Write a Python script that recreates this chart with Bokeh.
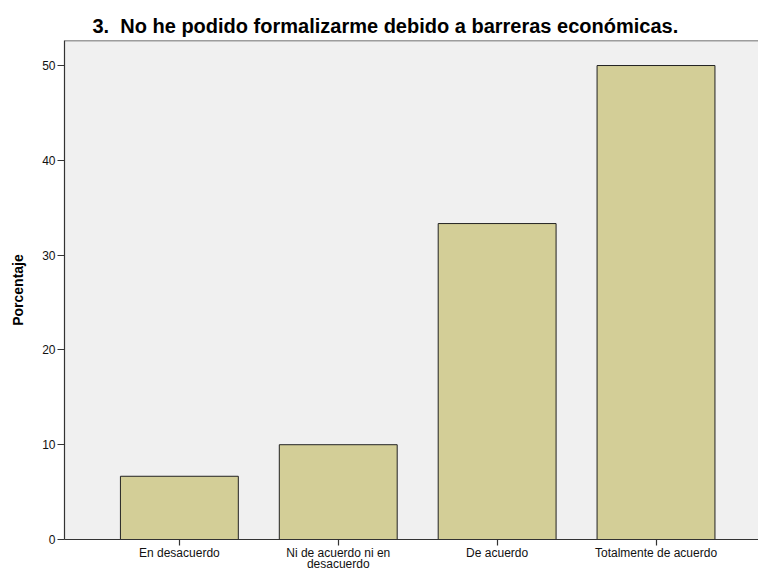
from bokeh.plotting import figure
from bokeh.models import FixedTicker, Span, Range1d
from bokeh.embed import file_html
from bokeh.resources import INLINE

categories = ["En desacuerdo", "Ni de acuerdo ni en\ndesacuerdo", "De acuerdo", "Totalmente de acuerdo"]
positions = [1, 2, 3, 4]
percentages = [6.67, 10.0, 33.33, 50.0]
y_ticks = [0, 10, 20, 30, 40, 50]

FONT = "Liberation Sans"
X0, X1 = 0.277, 4.645
Y1 = 52.64

p = figure(width=758, height=573, output_backend="svg", toolbar_location=None,
           x_range=Range1d(X0, X1), y_range=Range1d(0, Y1),
           min_border_left=64, min_border_right=0, min_border_top=40, min_border_bottom=33)

p.title.text = "3.\u00a0\u00a0No he podido formalizarme debido a barreras económicas."
p.title.text_font = FONT
p.title.text_font_size = "20px"
p.title.text_font_style = "bold"
p.title.text_color = "#000000"
p.title.offset = 28
p.title.standoff = 7

p.background_fill_color = "#F0F0F0"
p.border_fill_color = "white"
p.outline_line_color = None
p.grid.visible = False

p.vbar(x=positions, top=percentages, width=0.742, bottom=0,
       fill_color="#D3CE97", line_color="#222222", line_width=1)

top_border = Span(location=Y1, dimension="width", line_color="#444444", line_width=1.5)
p.add_layout(top_border)

p.xaxis.ticker = FixedTicker(ticks=positions)
p.xaxis.major_label_overrides = {pos: lab for pos, lab in zip(positions, categories)}
p.yaxis.ticker = FixedTicker(ticks=y_ticks)

for ax in (p.xaxis, p.yaxis):
    ax.axis_line_color = "#333333"
    ax.axis_line_width = 1.2
    ax.major_tick_line_color = "#333333"
    ax.major_tick_line_width = 1.2
    ax.major_tick_out = 7
    ax.major_tick_in = 0
    ax.minor_tick_line_color = None
    ax.major_label_text_font = FONT
    ax.major_label_text_font_size = "12px"
    ax.major_label_text_color = "#111111"
    ax.major_label_standoff = 3

p.xaxis.major_tick_out = 6
p.xaxis.major_label_text_line_height = 0.82
p.xaxis.major_label_standoff = 0
p.yaxis.major_label_standoff = 2

p.yaxis.axis_label = "Porcentaje"
p.yaxis.axis_label_text_font = FONT
p.yaxis.axis_label_text_font_size = "14px"
p.yaxis.axis_label_text_font_style = "bold"
p.yaxis.axis_label_text_color = "#000000"
p.yaxis.axis_label_standoff = 13

open("out.html", "w").write(file_html(p, INLINE))
